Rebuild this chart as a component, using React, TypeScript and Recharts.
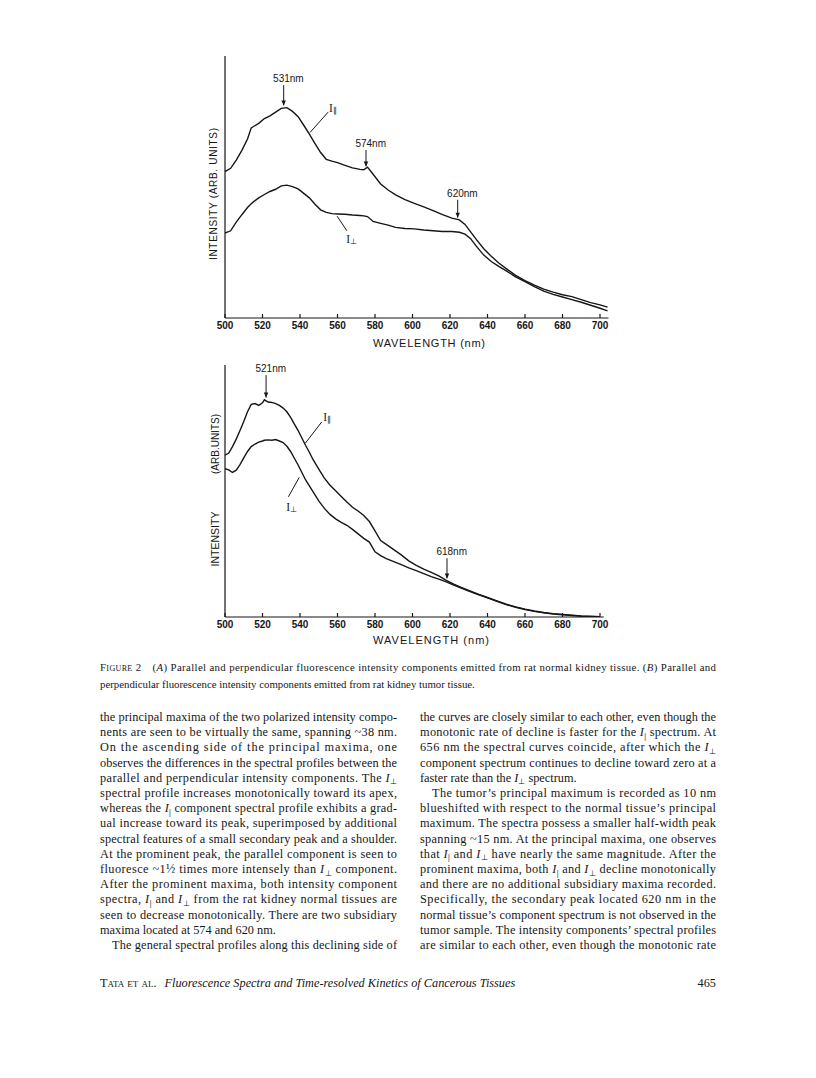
import React from 'react';
import { LineChart, Line, XAxis, YAxis, ReferenceLine, ReferenceDot } from 'recharts';

// ---- data: figure 2A (normal kidney tissue) ----
const wlA = [500, 503, 506, 509, 512, 514, 515, 518, 521, 524, 527, 530, 533, 536, 539, 542, 545, 548, 551, 554, 557, 560, 564, 568, 572, 574, 576, 579, 583, 587, 591, 596, 601, 606, 611, 616, 621, 625, 628, 631, 634, 638, 642, 646, 650, 655, 660, 665, 670, 675, 680, 685, 690, 695, 700, 704];
const parA = [3.91, 4.0, 4.22, 4.48, 4.78, 5.08, 5.11, 5.2, 5.33, 5.4, 5.5, 5.6, 5.62, 5.52, 5.38, 5.15, 4.91, 4.66, 4.42, 4.24, 4.19, 4.15, 4.08, 4.01, 3.97, 3.96, 4.03, 3.84, 3.58, 3.42, 3.29, 3.16, 3.06, 2.97, 2.87, 2.76, 2.67, 2.62, 2.5, 2.3, 2.1, 1.85, 1.65, 1.47, 1.32, 1.14, 1.0, 0.88, 0.77, 0.69, 0.62, 0.57, 0.49, 0.41, 0.35, 0.29];
const perpA = [2.27, 2.33, 2.56, 2.76, 2.95, 3.05, 3.1, 3.21, 3.3, 3.38, 3.44, 3.53, 3.55, 3.51, 3.45, 3.33, 3.21, 3.04, 2.89, 2.82, 2.79, 2.78, 2.77, 2.75, 2.74, 2.73, 2.71, 2.58, 2.53, 2.48, 2.42, 2.39, 2.38, 2.35, 2.33, 2.31, 2.31, 2.29, 2.24, 2.12, 1.92, 1.68, 1.51, 1.38, 1.26, 1.1, 0.97, 0.84, 0.72, 0.63, 0.56, 0.49, 0.42, 0.34, 0.26, 0.19];

// ---- data: figure 2B (kidney tumor tissue) ----
const wlB = [500, 502, 504, 506, 508, 510, 512, 514, 516, 518, 520, 521, 523, 525, 527, 529, 531, 533, 535, 537, 539, 541, 543, 545, 547, 550, 553, 556, 559, 562, 565, 568, 571, 574, 577, 580, 583, 586, 590, 594, 598, 602, 606, 610, 614, 618, 622, 626, 630, 635, 640, 645, 650, 655, 660, 665, 670, 675, 680, 685, 690, 695, 700];
const parB = [4.32, 4.38, 4.55, 4.75, 4.98, 5.22, 5.48, 5.68, 5.7, 5.65, 5.72, 5.8, 5.74, 5.73, 5.7, 5.65, 5.58, 5.48, 5.33, 5.15, 4.98, 4.78, 4.58, 4.4, 4.2, 3.95, 3.71, 3.52, 3.37, 3.22, 3.07, 2.93, 2.83, 2.71, 2.55, 2.3, 2.04, 1.94, 1.8, 1.66, 1.5, 1.38, 1.28, 1.19, 1.1, 0.98, 0.88, 0.79, 0.71, 0.61, 0.52, 0.43, 0.34, 0.27, 0.21, 0.16, 0.12, 0.09, 0.07, 0.05, 0.03, 0.02, 0.01];
const perpB = [3.96, 3.93, 3.86, 3.92, 4.07, 4.25, 4.42, 4.55, 4.62, 4.67, 4.7, 4.72, 4.73, 4.72, 4.74, 4.7, 4.66, 4.56, 4.42, 4.24, 4.06, 3.86, 3.66, 3.5, 3.34, 3.1, 2.9, 2.74, 2.62, 2.53, 2.45, 2.34, 2.22, 2.1, 2.0, 1.74, 1.64, 1.56, 1.48, 1.4, 1.31, 1.24, 1.16, 1.08, 1.01, 0.94, 0.85, 0.77, 0.69, 0.6, 0.51, 0.42, 0.33, 0.26, 0.2, 0.15, 0.11, 0.08, 0.06, 0.04, 0.02, 0.01, 0.0];

const xTicks = [500, 520, 540, 560, 580, 600, 620, 640, 660, 680, 700];
const yTicksA = [0, 1, 2, 3, 4, 5, 6, 7];
const yTicksB = [0, 1, 2, 3, 4, 5, 6];

// peak markers: label, arrow x, arrow top, arrow tip
const peaksA = [
  { text: '531nm', x: 531.3, from: 6.22, to: 5.68 },
  { text: '574nm', x: 575.2, from: 4.49, to: 4.05 },
  { text: '620nm', x: 624.1, from: 3.16, to: 2.68 },
];
const peaksB = [
  { text: '521nm', x: 521.9, from: 6.46, to: 5.86 },
  { text: '618nm', x: 618.4, from: 1.57, to: 1.03 },
];
// curve name pointers: label pos, line start, line end
const namesA = [
  { sub: '\u2225', lx: 557.5, ly: 5.6, x1: 555, y1: 5.5, x2: 545.4, y2: 4.96 },
  { sub: '\u22a5', lx: 567.5, ly: 2.1, x1: 565, y1: 2.33, x2: 559.8, y2: 2.72 },
];
const namesB = [
  { sub: '\u2225', lx: 554.5, ly: 5.35, x1: 551.6, y1: 5.21, x2: 542.8, y2: 4.64 },
  { sub: '\u22a5', lx: 535.5, ly: 2.95, x1: 533.8, y1: 3.21, x2: 539.6, y2: 3.73 },
];

// ---- page text ----
const captionLines = [
  '(A) Parallel and perpendicular fluorescence intensity components emitted from rat normal kidney tissue. (B) Parallel and',
  'perpendicular fluorescence intensity components emitted from rat kidney tumor tissue.',
];
const leftCol = [
  'the principal maxima of the two polarized intensity compo-',
  'nents are seen to be virtually the same, spanning ~38 nm.',
  'On the ascending side of the principal maxima, one',
  'observes the differences in the spectral profiles between the',
  'parallel and perpendicular intensity components. The {perp}',
  'spectral profile increases monotonically toward its apex,',
  'whereas the {par} component spectral profile exhibits a grad-',
  'ual increase toward its peak, superimposed by additional',
  'spectral features of a small secondary peak and a shoulder.',
  'At the prominent peak, the parallel component is seen to',
  'fluoresce ~1\u00bd times more intensely than {perp} component.',
  'After the prominent maxima, both intensity component',
  'spectra, {par} and {perp} from the rat kidney normal tissues are',
  'seen to decrease monotonically. There are two subsidiary',
  '#maxima located at 574 and 620 nm.',
  '>The general spectral profiles along this declining side of',
];
const rightCol = [
  'the curves are closely similar to each other, even though the',
  'monotonic rate of decline is faster for the {par} spectrum. At',
  '656 nm the spectral curves coincide, after which the {perp}',
  'component spectrum continues to decline toward zero at a',
  '#faster rate than the {perp} spectrum.',
  '>The tumor\u2019s principal maximum is recorded as 10 nm',
  'blueshifted with respect to the normal tissue\u2019s principal',
  'maximum. The spectra possess a smaller half-width peak',
  'spanning ~15 nm. At the principal maxima, one observes',
  'that {par} and {perp} have nearly the same magnitude. After the',
  'prominent maxima, both {par} and {perp} decline monotonically',
  'and there are no additional subsidiary maxima recorded.',
  'Specifically, the secondary peak located 620 nm in the',
  'normal tissue\u2019s component spectrum is not observed in the',
  'tumor sample. The intensity components\u2019 spectral profiles',
  'are similar to each other, even though the monotonic rate',
];

const INK = '#161616';
const SANS = '"Liberation Sans", Arial, sans-serif';
const SERIF = '"Liberation Serif", "Times New Roman", serif';

const Arrow = (props: any) => {
  const { x1, y1, x2, y2, head } = props;
  if (x1 == null) return null;
  const ang = Math.atan2(y2 - y1, x2 - x1);
  const L = 5, W = 2.2;
  const bx = x2 - L * Math.cos(ang), by = y2 - L * Math.sin(ang);
  const px = -Math.sin(ang) * W, py = Math.cos(ang) * W;
  return (
    <g>
      <line x1={x1} y1={y1} x2={x2} y2={y2} stroke={INK} strokeWidth={1} />
      {head && <polygon points={`${x2},${y2} ${bx + px},${by + py} ${bx - px},${by - py}`} fill={INK} />}
    </g>
  );
};

const PeakText = (props: any) => (
  <text x={props.cx} y={props.cy} textAnchor="middle" dominantBaseline="central" fontFamily={SANS} fontSize={10} fill={INK}>
    {props.text}
  </text>
);

const NameText = (props: any) => (
  <text x={props.cx} y={props.cy} textAnchor="middle" dominantBaseline="central" fontFamily={SERIF} fontSize={11.5} fill={INK}>
    I
    <tspan fontSize={7.5} dy={2}>{props.sub}</tspan>
  </text>
);

const zip = (xs: number[], a: number[], b: number[]) => xs.map((x, i) => ({ wl: x, par: a[i], perp: b[i] }));

interface PanelProps {
  top: number;
  height: number;
  marginTop: number;
  xMax: number;
  yMax: number;
  yTicks: number[];
  data: { wl: number; par: number; perp: number }[];
  peaks: typeof peaksA;
  names: typeof namesA;
}

const Panel: React.FC<PanelProps> = ({ top, height, marginTop, xMax, yMax, yTicks, data, peaks, names }) => {
  const plotRight = 225 + (xMax - 500) * 1.875;
  return (
    <div style={{ position: 'absolute', left: 0, top }}>
      <LineChart width={660} height={height} data={data} margin={{ top: marginTop, right: 660 - plotRight, left: 0, bottom: 8 }}>
        <XAxis
          dataKey="wl"
          type="number"
          domain={[500, xMax]}
          ticks={xTicks}
          allowDataOverflow
          height={30}
          stroke={INK}
          strokeWidth={1.2}
          tickSize={-4}
          tickMargin={8}
          tick={{ fill: INK, fontSize: 10, fontFamily: SANS, fontWeight: 'bold' }}
        />
        <YAxis
          type="number"
          domain={[0, yMax]}
          ticks={yTicks}
          allowDataOverflow
          width={225}
          stroke={INK}
          strokeWidth={1.2}
          tickSize={-4}
          tick={false}
        />
        <Line type="linear" dataKey="par" stroke={INK} strokeWidth={1.4} dot={false} isAnimationActive={false} />
        <Line type="linear" dataKey="perp" stroke={INK} strokeWidth={1.4} dot={false} isAnimationActive={false} />
        {peaks.map((p) => (
          <ReferenceLine key={p.text} segment={[{ x: p.x, y: p.from }, { x: p.x, y: p.to }]} shape={(s: any) => <Arrow {...s} head />} />
        ))}
        {peaks.map((p) => (
          <ReferenceDot key={p.text + 't'} x={p.x + 2.5} y={p.from + 0.17} r={0} shape={(s: any) => <PeakText {...s} text={p.text} />} />
        ))}
        {names.map((n) => (
          <ReferenceLine key={n.sub} segment={[{ x: n.x1, y: n.y1 }, { x: n.x2, y: n.y2 }]} shape={(s: any) => <Arrow {...s} head={false} />} />
        ))}
        {names.map((n) => (
          <ReferenceDot key={n.sub + 't'} x={n.lx} y={n.ly} r={0} shape={(s: any) => <NameText {...s} sub={n.sub} />} />
        ))}
      </LineChart>
    </div>
  );
};

const rich = (s: string) => {
  const parts = s.split(/(\{par\}|\{perp\})/);
  const out: React.ReactNode[] = [];
  let shifted = false;
  parts.forEach((p, i) => {
    if (p === '{par}' || p === '{perp}') {
      out.push(<tspan key={i + 'i'} fontStyle="italic" dy={shifted ? -2.5 : 0}>I</tspan>);
      out.push(<tspan key={i + 's'} fontSize={8} dy={2.5} fontWeight={p === '{par}' ? 'bold' : 'normal'}>{p === '{par}' ? '|' : '\u22a5'}</tspan>);
      shifted = true;
    } else if (p) {
      out.push(<tspan key={i} dy={shifted ? -2.5 : 0}>{p}</tspan>);
      shifted = false;
    }
  });
  return out;
};

const Column = ({ lines, x, width }: { lines: string[]; x: number; width: number }) => (
  <g>
    {lines.map((raw, i) => {
      const last = raw.startsWith('#');
      const indent = raw.startsWith('>') ? 12 : 0;
      const s = raw.replace(/^[#>]/, '');
      const y = 721 + i * 15.2;
      return (
        <text key={i} x={x + indent} y={y} fontFamily={SERIF} fontSize={12.3} fill={INK}
          {...(last ? {} : { textLength: width - indent, lengthAdjust: 'spacing' })}>
          {rich(s)}
        </text>
      );
    })}
  </g>
);

const App: React.FC = () => {
  const dataA = zip(wlA, parA, perpA);
  const dataB = zip(wlB, parB, perpB);
  return (
    <div style={{ position: 'absolute', left: 0, top: 0, width: 816, height: 1078, background: '#fff' }}>
      <Panel top={0} height={356} marginTop={56} xMax={704.5} yMax={7} yTicks={yTicksA} data={dataA} peaks={peaksA} names={namesA} />
      <Panel top={300} height={355} marginTop={65} xMax={702} yMax={6.73} yTicks={yTicksB} data={dataB} peaks={peaksB} names={namesB} />
      <svg width={816} height={1078} style={{ position: 'absolute', left: 0, top: 0, pointerEvents: 'none' }}>
        {/* axis titles */}
        <text x={429} y={347} textAnchor="middle" fontFamily={SANS} fontSize={11} fill={INK} textLength={112} lengthAdjust="spacing">WAVELENGTH (nm)</text>
        <text x={431} y={644} textAnchor="middle" fontFamily={SANS} fontSize={11} fill={INK} textLength={116} lengthAdjust="spacing">WAVELENGTH (nm)</text>
        <text transform="translate(217,194) rotate(-90)" textAnchor="middle" fontFamily={SANS} fontSize={10} fill={INK} textLength={132} lengthAdjust="spacing">INTENSITY (ARB. UNITS)</text>
        <text transform="translate(219,539) rotate(-90)" textAnchor="middle" fontFamily={SANS} fontSize={10.5} fill={INK}>INTENSITY</text>
        <text transform="translate(219,444) rotate(-90)" textAnchor="middle" fontFamily={SANS} fontSize={10} fill={INK}>(ARB.UNITS)</text>
        {/* caption */}
        <text x={100} y={671} fontFamily={SERIF} fontSize={10.8} fill={INK} textLength={616} lengthAdjust="spacing">
          <tspan style={{ fontVariant: 'small-caps' }}>Figure 2</tspan>
          <tspan>{'\u2003'}</tspan>
          {captionLines[0].split(/(\(A\)|\(B\))/).map((p, i) =>
            p === '(A)' || p === '(B)' ? (
              <tspan key={i}>(<tspan fontStyle="italic">{p[1]}</tspan>)</tspan>
            ) : (
              <tspan key={i}>{p}</tspan>
            )
          )}
        </text>
        <text x={100} y={688} fontFamily={SERIF} fontSize={10.8} fill={INK}>{captionLines[1]}</text>
        {/* body */}
        <Column lines={leftCol} x={100} width={297} />
        <Column lines={rightCol} x={420} width={296} />
        {/* running footer */}
        <text x={100} y={987} fontFamily={SERIF} fontSize={12.3} fill={INK}>
          <tspan style={{ fontVariant: 'small-caps' }}>Tata et al.</tspan>
          <tspan fontStyle="italic" dx={8}>Fluorescence Spectra and Time-resolved Kinetics of Cancerous Tissues</tspan>
        </text>
        <text x={716} y={987} textAnchor="end" fontFamily={SERIF} fontSize={12.3} fill={INK}>465</text>
      </svg>
    </div>
  );
};

export default App;
